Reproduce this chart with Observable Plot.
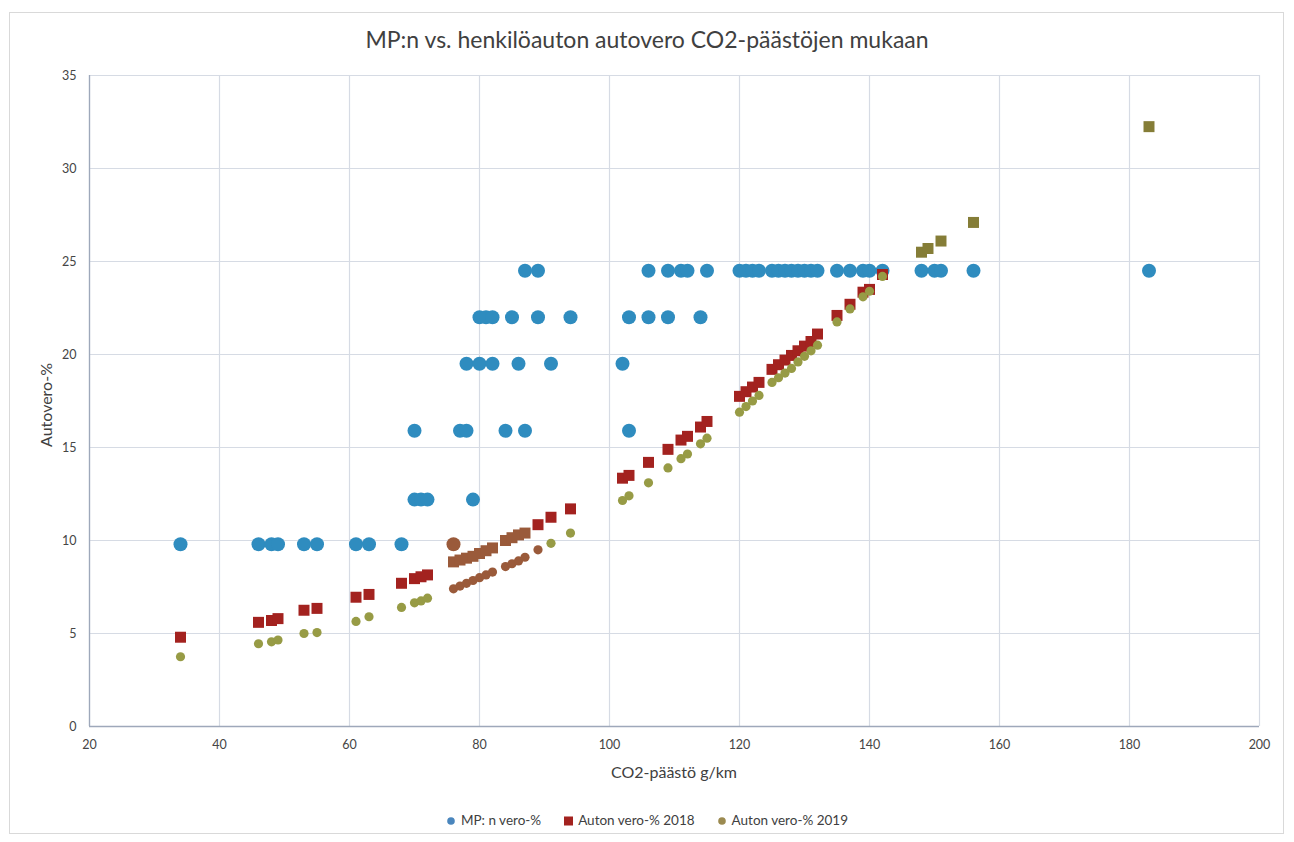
<!DOCTYPE html>
<html>
<head>
<meta charset="utf-8">
<script src="https://cdn.jsdelivr.net/npm/d3@7"></script>
<script src="https://cdn.jsdelivr.net/npm/@observablehq/plot@0.6"></script>
<style>
  html, body { margin: 0; padding: 0; background: #fff; }
  #wrap { position: relative; width: 1294px; height: 842px; font-family: Lato, "Open Sans", sans-serif; color: #404040; overflow: hidden; }
  #frame { position: absolute; left: 9px; top: 12px; width: 1275px; height: 822px; border: 1px solid #d9d9d9; box-sizing: border-box; }
  #title { position: absolute; top: 25px; left: 0; width: 1294px; text-align: center; font-size: 23px; color: #404040; }
  #chart { position: absolute; left: 0; top: 0; }
  #xlabel { position: absolute; top: 762px; left: 89px; width: 1170px; text-align: center; font-size: 16px; color: #404040; }
  #ylabel { position: absolute; left: 45px; top: 405px; transform: translate(-50%, -50%) rotate(-90deg); font-size: 16px; color: #404040; white-space: nowrap; }
  #legend { position: absolute; top: 812px; left: 0; width: 1294px; text-align: center; font-size: 13.5px; color: #404040; }
  #legend span.item { display: inline-flex; align-items: center; margin: 0 11px; }
  #legend svg { margin-right: 4px; }
</style>
</head>
<body>
<div id="wrap">
  <div id="frame"></div>
  <div id="title">MP:n vs. henkilöauton autovero CO2-päästöjen mukaan</div>
  <div id="chart"></div>
  <div id="xlabel">CO2-päästö g/km</div>
  <div id="ylabel">Autovero-%</div>
  <div id="legend"></div>
</div>
<script>
// Series names
const seriesNames = ["MP: n vero-%", "Auton vero-% 2018", "Auton vero-% 2019"];

// MP:n vero-% (company car benefit tax) — CO2 g/km and percent
const mpCo2 = [34,46,48,49,53,55,61,63,68,76,
               70,71,72,79,
               70,77,78,84,87,103,
               78,80,82,86,91,102,
               80,81,82,85,89,94,103,106,109,114,
               87,89,106,109,111,112,115,120,121,122,123,125,126,127,128,129,130,131,132,
               135,137,139,140,142,148,150,151,156,183];
const mpVero = [9.8,9.8,9.8,9.8,9.8,9.8,9.8,9.8,9.8,9.8,
                12.2,12.2,12.2,12.2,
                15.9,15.9,15.9,15.9,15.9,15.9,
                19.5,19.5,19.5,19.5,19.5,19.5,
                22,22,22,22,22,22,22,22,22,22,
                24.5,24.5,24.5,24.5,24.5,24.5,24.5,24.5,24.5,24.5,24.5,24.5,24.5,24.5,24.5,24.5,24.5,24.5,24.5,
                24.5,24.5,24.5,24.5,24.5,24.5,24.5,24.5,24.5,24.5];

// Car tax % by CO2 g/km, 2018 and 2019
const carCo2 = [34,46,48,49,53,55,61,63,68,70,71,72,
                76,77,78,79,80,81,82,84,85,86,87,89,91,94,
                102,103,106,109,111,112,114,115,
                120,121,122,123,125,126,127,128,129,130,131,132,
                135,137,139,140,142,148,149,151,156,183];
const tax2018 = [4.8,5.6,5.7,5.8,6.25,6.35,6.95,7.1,7.7,7.95,8.05,8.15,
                 8.85,8.95,9.05,9.15,9.3,9.45,9.6,10.0,10.15,10.3,10.4,10.85,11.25,11.7,
                 13.35,13.5,14.2,14.9,15.4,15.6,16.1,16.4,
                 17.75,18.0,18.25,18.5,19.2,19.45,19.7,19.95,20.2,20.45,20.7,21.1,
                 22.1,22.7,23.35,23.5,24.3,25.5,25.7,26.1,27.1,32.25];
const tax2019 = [3.75,4.45,4.55,4.65,5.0,5.05,5.65,5.9,6.4,6.65,6.75,6.9,
                 7.4,7.55,7.7,7.85,8.0,8.15,8.3,8.6,8.75,8.9,9.1,9.5,9.85,10.4,
                 12.15,12.4,13.1,13.9,14.4,14.65,15.2,15.5,
                 16.9,17.2,17.5,17.8,18.5,18.75,19.0,19.25,19.6,19.9,20.2,20.5,
                 21.75,22.45,23.1,23.4,24.2,25.5,25.7,26.1,27.1,32.25];

// Axis ticks
const xTicks = [20,40,60,80,100,120,140,160,180,200];
const yTicks = [0,5,10,15,20,25,30,35];

// Colours
const cBlue = "#2f8cbf", cRed = "#a3221f", cOlive = "#979b45", cSame = "#857d37", cBrown = "#9a5a3a";
// region of the scanned original where markers appear brownish
const tintCo2 = [75, 89.5], tintMax = 10.5;
const tinted = (x, y) => x >= tintCo2[0] && x <= tintCo2[1] && y <= tintMax;

const mp = mpCo2.map((x, i) => ({x, y: mpVero[i]}));
const car = carCo2.map((x, i) => ({x, y18: tax2018[i], y19: tax2019[i]}));

const plot = Plot.plot({
  width: 1294,
  height: 800,
  marginLeft: 89,
  marginRight: 35,
  marginTop: 75,
  marginBottom: 74,
  style: {fontFamily: "Lato, 'Open Sans', sans-serif", fontSize: "12px", color: "#404040", background: "transparent", overflow: "visible"},
  x: {domain: [20, 200], ticks: xTicks},
  y: {domain: [0, 35], ticks: yTicks},
  marks: [
    Plot.ruleX(xTicks, {stroke: "#d6dbe4", strokeWidth: 1.2}),
    Plot.ruleY(yTicks, {stroke: "#d6dbe4", strokeWidth: 1.2}),
    Plot.ruleX([20], {stroke: "#9ea8ba", strokeWidth: 1.3}),
    Plot.ruleY([0], {stroke: "#9ea8ba", strokeWidth: 1.3}),
    Plot.axisX({ticks: xTicks, tickSize: 0, tickPadding: 14, label: null, fill: "#454545", fontSize: 12.5}),
    Plot.axisY({ticks: yTicks, tickSize: 0, tickPadding: 13, label: null, fill: "#454545", fontSize: 12.5}),
    Plot.dot(mp, {x: "x", y: "y", r: 7, fill: d => tinted(d.x, d.y) ? cBrown : cBlue, stroke: null}),
    Plot.dot(car, {x: "x", y: "y18", symbol: "square", r: 6.2,
      fill: d => d.y18 === d.y19 ? cSame : (tinted(d.x, d.y18) ? cBrown : cRed), stroke: null}),
    Plot.dot(car.filter(d => d.y18 !== d.y19), {x: "x", y: "y19", r: 4.6,
      fill: d => tinted(d.x, d.y19) ? cBrown : cOlive, stroke: null})
  ]
});
document.getElementById("chart").appendChild(plot);

// Legend
const legendMarks = [
  {name: seriesNames[0], color: "#4a86bd", shape: "circle"},
  {name: seriesNames[1], color: cRed, shape: "square"},
  {name: seriesNames[2], color: "#9b8a50", shape: "circle"}
];
const leg = document.getElementById("legend");
legendMarks.forEach(m => {
  const s = document.createElement("span");
  s.className = "item";
  const shape = m.shape === "circle"
    ? `<circle cx="5" cy="7" r="3.8" fill="${m.color}"/>`
    : `<rect x="1" y="2.5" width="9" height="9" fill="${m.color}"/>`;
  s.innerHTML = `<svg width="11" height="13">${shape}</svg>${m.name}`;
  leg.appendChild(s);
});
</script>
</body>
</html>
